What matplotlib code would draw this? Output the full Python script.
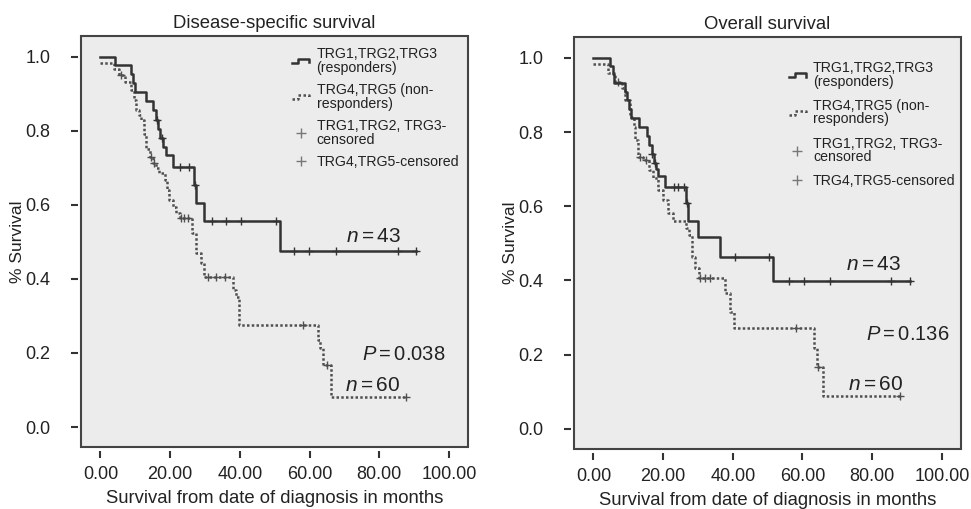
import matplotlib
matplotlib.use("Agg")
import matplotlib.pyplot as plt
from matplotlib.lines import Line2D
from matplotlib.patches import Rectangle
from matplotlib.legend_handler import HandlerBase
import numpy as np

plt.rcParams['font.family'] = ['Liberation Sans', 'DejaVu Sans']
plt.rcParams['mathtext.fontset'] = 'custom'
plt.rcParams['mathtext.rm'] = 'Liberation Sans'
plt.rcParams['mathtext.it'] = 'Liberation Sans:italic'

# --- Disease-specific survival ---
dss_resp_t = [0, 4.2, 8.8, 9.3, 9.8, 13.1, 15.0, 15.8, 16.5, 17.2, 18.0, 18.8, 20.8, 26.8, 27.3, 29.8, 51.5]
dss_resp_s = [1.0, 0.977, 0.953, 0.930, 0.906, 0.880, 0.855, 0.830, 0.805, 0.780, 0.757, 0.735, 0.702, 0.654, 0.605, 0.555, 0.476]
dss_resp_cens = [16.2, 17.6, 22.7, 25.5, 27.0, 31.9, 36.0, 40.3, 50.4, 55.6, 59.9, 67.6, 85.3, 90.7]

dss_non_t = [0, 4.0, 5.4, 7.0, 8.8, 9.5, 10.2, 11.0, 11.7, 12.4, 13.1, 14.1, 15.0, 16.0, 16.9, 18.4, 19.2, 19.8,
             20.8, 21.7, 22.7, 26.2, 27.5, 28.9, 29.8, 37.9, 38.9, 39.9, 62.3, 63.0, 63.8, 66.2]
dss_non_s = [0.983, 0.967, 0.950, 0.933, 0.910, 0.883, 0.857, 0.843, 0.830, 0.790, 0.750, 0.730, 0.713, 0.700,
             0.686, 0.668, 0.640, 0.613, 0.595, 0.578, 0.564, 0.523, 0.469, 0.442, 0.406, 0.370, 0.352, 0.276,
             0.235, 0.213, 0.168, 0.082]
dss_non_cens = [6.0, 14.5, 15.5, 23.0, 24.1, 25.2, 30.8, 33.2, 35.6, 58.0, 65.0, 87.7]

# --- Overall survival ---
os_resp_t = [0, 4.8, 5.5, 6.0, 9.1, 9.7, 10.3, 10.8, 13.2, 15.3, 16.0, 16.7, 17.4, 18.0, 18.6, 20.6, 26.6, 27.0,
             30.0, 36.2, 51.6]
os_resp_s = [1.0, 0.978, 0.955, 0.933, 0.909, 0.885, 0.861, 0.837, 0.813, 0.789, 0.765, 0.741, 0.717, 0.700,
             0.682, 0.651, 0.608, 0.561, 0.516, 0.464, 0.398]
os_resp_cens = [16.8, 17.8, 23.0, 24.3, 25.9, 26.8, 40.7, 50.3, 56.0, 60.3, 68.0, 85.4, 90.9]

os_non_t = [0, 4.3, 6.2, 8.1, 9.1, 10.5, 11.5, 11.9, 12.9, 14.3, 15.8, 17.2, 18.6, 20.1, 21.5, 22.9, 26.6, 27.3,
            28.3, 29.2, 30.2, 37.9, 39.3, 40.2, 63.2, 64.1, 66.0]
os_non_s = [0.983, 0.960, 0.935, 0.918, 0.886, 0.841, 0.814, 0.779, 0.734, 0.725, 0.698, 0.675, 0.644, 0.617,
            0.581, 0.559, 0.541, 0.523, 0.464, 0.433, 0.406, 0.366, 0.316, 0.272, 0.218, 0.168, 0.088]
os_non_cens = [7.0, 13.5, 15.0, 30.5, 32.0, 33.5, 58.2, 64.5, 88.0]

titles = ["Disease-specific survival", "Overall survival"]
p_values = ["0.038", "0.136"]
legend_labels = ["TRG1,TRG2,TRG3\n(responders)", "TRG4,TRG5 (non-\nresponders)",
                 "TRG1,TRG2, TRG3-\ncensored", "TRG4,TRG5-censored"]
x_ticks = [0, 20, 40, 60, 80, 100]
y_ticks = [0.0, 0.2, 0.4, 0.6, 0.8, 1.0]

DARK = '#333333'
DOTC = '#505050'
BG = '#ececec'
DOTS = (0, (1, 0.9))


class StepHandler(HandlerBase):
    """Kleiner Stufen-Glyph wie in SPSS-Legenden."""
    def __init__(self, ls, color):
        super().__init__()
        self.ls = ls
        self.color = color

    def create_artists(self, legend, orig_handle, xdescent, ydescent, width, height, fontsize, trans):
        x0 = -xdescent
        xs = [x0, x0 + 0.35 * width, x0 + 0.35 * width, x0 + width, x0 + width]
        ys = [0.35 * height, 0.35 * height, 0.75 * height, 0.75 * height, 0.4 * height]
        ln = Line2D(xs, ys, color=self.color, lw=1.8, ls=self.ls, transform=trans)
        return [ln]


def surv_at(t_list, s_list, tc):
    # Stufenfunktion am Zensurzeitpunkt ablesen
    idx = np.searchsorted(np.array(t_list), tc, side='right') - 1
    return np.array(s_list)[idx]


def km_plot(ax, t, s, cens, ls, color):
    end = max(cens)
    ax.step(list(t) + [end], list(s) + [s[-1]], where='post', color=color, lw=1.8, ls=ls)
    ax.plot(cens, surv_at(t, s, cens), ls='none', marker='+', ms=5.5, mew=1.0, color=color)


fig = plt.figure(figsize=(9.71, 5.09), dpi=100)
positions = [[0.0834, 0.1218, 0.3986, 0.8075], [0.5911, 0.1179, 0.3986, 0.8094]]
curves = [
    (dss_resp_t, dss_resp_s, dss_resp_cens, dss_non_t, dss_non_s, dss_non_cens),
    (os_resp_t, os_resp_s, os_resp_cens, os_non_t, os_non_s, os_non_cens),
]
text_pos = [
    dict(n43=(70.5, 0.514), p=(75.0, 0.197), n60=(70.3, 0.111)),
    dict(n43=(72.6, 0.442), p=(78.3, 0.254), n60=(73.2, 0.119)),
]
leg_anchor = [(0.528, 0.99), (0.537, 0.958)]
leg_spacing = [0.6, 0.72]

for i in range(2):
    ax = fig.add_axes(positions[i])
    ax.set_facecolor(BG)
    rt, rs, rc, nt, ns, nc = curves[i]
    km_plot(ax, nt, ns, nc, DOTS, DOTC)
    km_plot(ax, rt, rs, rc, '-', DARK)

    ax.set_xlim(-5.6, 105.5)
    ax.set_ylim(-0.054, 1.056)
    ax.set_xticks(x_ticks)
    ax.set_xticklabels([f"{v:.2f}" for v in x_ticks])
    ax.set_yticks(y_ticks)
    ax.set_yticklabels([f"{v:.1f}" for v in y_ticks])

    # Rahmen separat, Ticks leicht abgesetzt
    for sp in ax.spines.values():
        sp.set_color('none')
    ax.spines['bottom'].set_position(('outward', 3))
    ax.spines['left'].set_position(('outward', 2))
    ax.add_patch(Rectangle((0, 0), 1, 1, transform=ax.transAxes, fill=False,
                           edgecolor='#444444', lw=1.5, clip_on=False, zorder=5))
    ax.tick_params(axis='both', direction='out', length=5, width=1.5, color='#333333',
                   labelsize=13, labelcolor='#222222')
    ax.tick_params(axis='x', pad=6)
    ax.tick_params(axis='y', pad=15)

    ax.set_title(titles[i], fontsize=13.3, pad=6, color='#222222')
    ax.set_xlabel('Survival from date of diagnosis in months', fontsize=13.3, color='#222222', labelpad=5)
    ax.set_ylabel('% Survival', fontsize=12.5, color='#222222', labelpad=0)

    tp = text_pos[i]
    ax.text(*tp['n43'], r'$n = 43$', fontsize=15, va='center', ha='left', color='#222222')
    ax.text(*tp['p'], r'$P = $' + p_values[i], fontsize=14.5, va='center', ha='left', color='#222222')
    ax.text(*tp['n60'], r'$n = 60$', fontsize=15, va='center', ha='left', color='#222222')

    h_resp = Line2D([], [], color=DARK)
    h_non = Line2D([], [], color=DOTC)
    h_c1 = Line2D([], [], ls='none', marker='+', ms=7, mew=1.0, color='#777777')
    h_c2 = Line2D([], [], ls='none', marker='+', ms=7, mew=1.0, color='#777777')
    leg = ax.legend([h_resp, h_non, h_c1, h_c2], legend_labels, loc='upper left',
                    bbox_to_anchor=leg_anchor[i], frameon=False, fontsize=10.2,
                    handlelength=1.2, handletextpad=0.5, labelspacing=leg_spacing[i], borderpad=0,
                    handler_map={h_resp: StepHandler('-', DARK), h_non: StepHandler((0, (1, 1)), DOTC)})
    for t in leg.get_texts():
        t.set_linespacing(0.95)
        t.set_color('#222222')

fig.savefig('out.png', dpi=100)
